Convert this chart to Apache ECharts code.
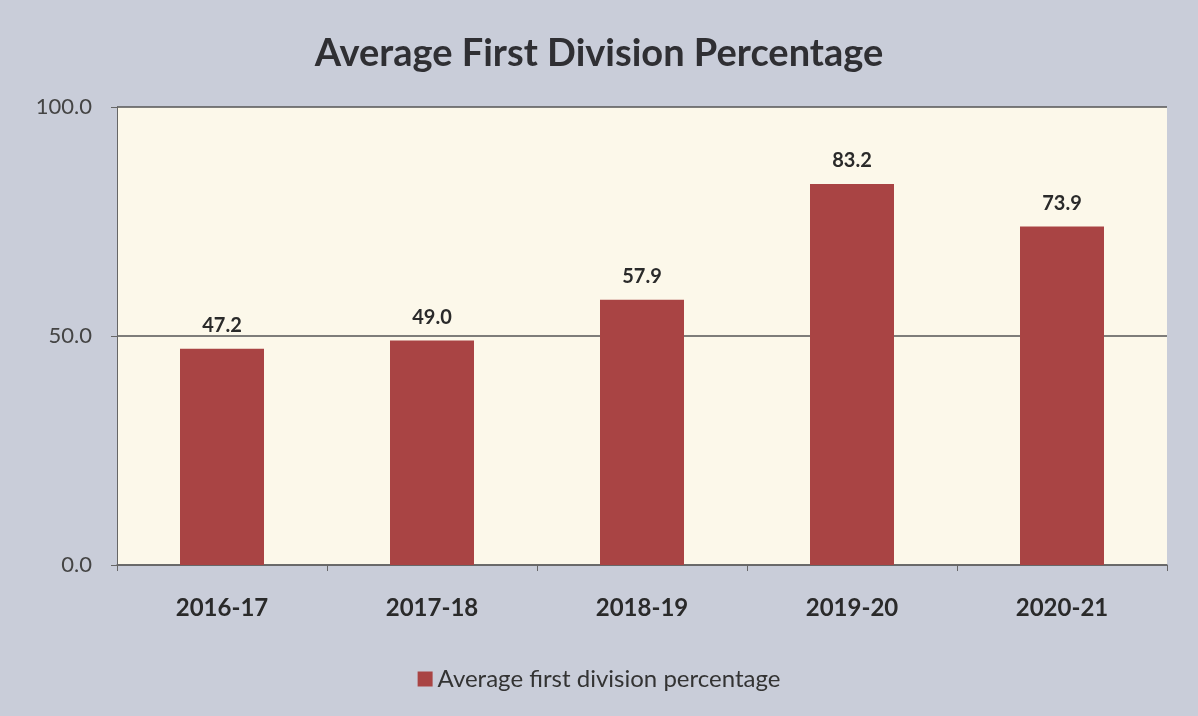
<!DOCTYPE html>
<html><head><meta charset="utf-8">
<script src="https://cdn.jsdelivr.net/npm/echarts@6/dist/echarts.min.js"></script>
<style>html,body{margin:0;padding:0;background:#c9cdd9;}#c{width:1198px;height:716px;}</style>
</head><body><div id="c"></div>
<script>
const categories = ['2016-17','2017-18','2018-19','2019-20','2020-21'];
const values = [47.2, 49.0, 57.9, 83.2, 73.9];
const seriesName = 'Average first division percentage';
const titleText = 'Average First Division Percentage';

const chart = echarts.init(document.getElementById('c'));
chart.setOption({
  backgroundColor: '#c9cdd9',
  animation: false,
  textStyle: {fontFamily: 'Lato'},
  title: {text: titleText, left: 'center', top: 30,
    textStyle: {fontSize: 38, fontWeight: 'bold', color: '#2f2f33', fontFamily: 'Lato'}},
  legend: {bottom: 20, left: 'center', itemWidth: 15, itemHeight: 15, itemGap: 8,
    icon: 'rect',
    textStyle: {fontSize: 24, color: '#333', fontFamily: 'Lato'}},
  grid: {left: 117, right: 31, top: 107, bottom: 151, backgroundColor: '#fcf8ea', show: true, borderWidth: 0},
  xAxis: {type: 'category', data: categories,
    axisLine: {lineStyle: {color: '#666', width: 1.5}},
    axisTick: {show: true, length: 6, lineStyle: {color: '#666'}},
    axisLabel: {fontSize: 24, fontWeight: 'bold', color: '#2a2a2a', margin: 31}},
  yAxis: {type: 'value', min: 0, max: 100, interval: 50,
    axisLine: {show: true, lineStyle: {color: '#666'}},
    axisTick: {show: true, length: 6, lineStyle: {color: '#666'}},
    splitLine: {lineStyle: {color: '#555', width: 1.5}},
    axisLabel: {fontSize: 22, color: '#444', margin: 25, formatter: v => v.toFixed(1)}},
  series: [{name: seriesName, type: 'bar', data: values, barWidth: '40%',
    itemStyle: {color: '#a94444'},
    label: {show: true, position: 'top', distance: 13, fontSize: 20, fontWeight: 'bold', color: '#2a2a2a',
      formatter: p => p.value.toFixed(1)}}]
});
</script></body></html>
